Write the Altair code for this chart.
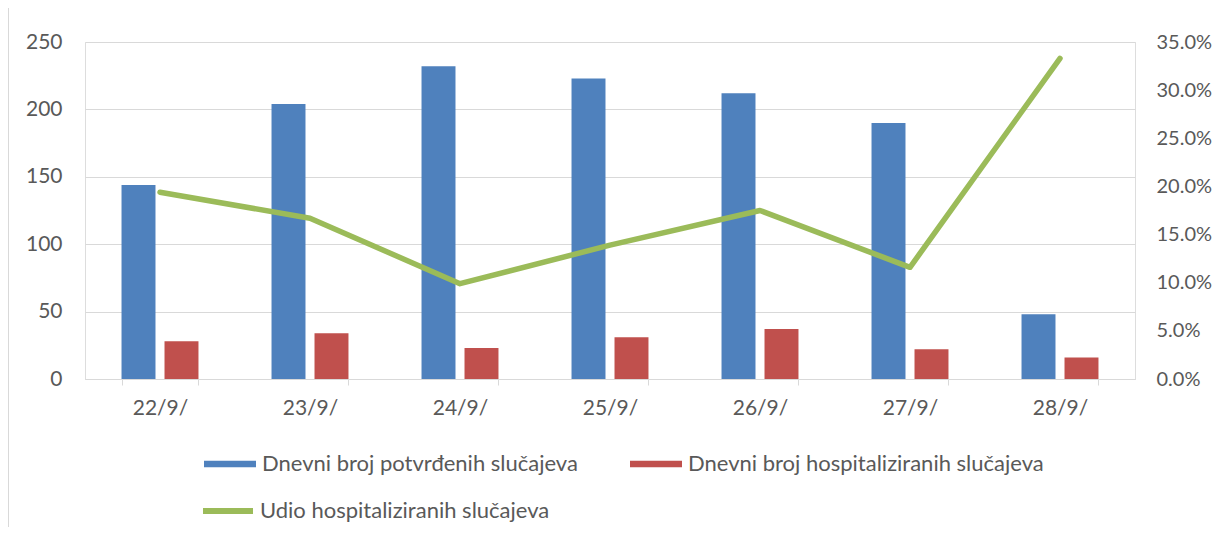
import altair as alt
import pandas as pd

dates = ["22/9/", "23/9/", "24/9/", "25/9/", "26/9/", "27/9/", "28/9/"]
confirmed = [144, 204, 232, 223, 212, 190, 48]
hospitalized = [28, 34, 23, 31, 37, 22, 16]
share = [0.194, 0.167, 0.099, 0.139, 0.175, 0.116, 0.333]

s_conf = "Dnevni broj potvrđenih slučajeva"
s_hosp = "Dnevni broj hospitaliziranih slučajeva"
s_share = "Udio hospitaliziranih slučajeva"

bars_df = pd.DataFrame({
    "date": dates * 2,
    "value": confirmed + hospitalized,
    "series": [s_conf] * len(dates) + [s_hosp] * len(dates),
})
line_df = pd.DataFrame({"date": dates, "share": share, "series": [s_share] * len(dates)})

FONT = "Lato"
TXT = "#595959"
GRID = "#D9D9D9"
AX_FS = 21
LG_FS = 22

x = alt.X("date:N", sort=dates, title=None,
          scale=alt.Scale(paddingInner=0.487, paddingOuter=0.2435),
          axis=alt.Axis(labelAngle=0, tickBand="extent", domainColor=GRID, tickColor=GRID,
                        tickSize=6, labelPadding=12, labelFontSize=AX_FS, labelColor=TXT,
                        labelFont=FONT, grid=False))

bars = alt.Chart(bars_df).mark_bar().encode(
    x=x,
    xOffset=alt.XOffset("series:N", sort=[s_conf, s_hosp],
                        scale=alt.Scale(paddingInner=0.21, paddingOuter=0)),
    y=alt.Y("value:Q", title=None,
            scale=alt.Scale(domain=[0, 250], nice=False),
            axis=alt.Axis(values=[0, 50, 100, 150, 200, 250], grid=True, gridColor=GRID,
                          domain=False, ticks=False, labelPadding=23, labelFontSize=AX_FS,
                          labelColor=TXT, labelFont=FONT)),
    color=alt.Color("series:N", sort=[s_conf, s_hosp],
                    scale=alt.Scale(domain=[s_conf, s_hosp], range=["#4F81BD", "#C0504D"]),
                    legend=alt.Legend(title=None, orient="none", legendX=119, legendY=396,
                                      direction="horizontal", columnPadding=52,
                                      symbolType="M-1,-0.125L1,-0.125L1,0.125L-1,0.125Z",
                                      symbolSize=2704, symbolStrokeWidth=0,
                                      labelFontSize=LG_FS, labelColor=TXT, labelFont=FONT,
                                      labelOffset=6, padding=0, labelLimit=500)),
)

line = alt.Chart(line_df).mark_line(strokeWidth=5.5, strokeCap="round", strokeJoin="round").encode(
    x=x,
    y=alt.Y("share:Q", title=None,
            scale=alt.Scale(domain=[0, 0.35], nice=False),
            axis=alt.Axis(orient="right", format=".1%",
                          values=[0, 0.05, 0.1, 0.15, 0.2, 0.25, 0.3, 0.35],
                          grid=False, domain=False, ticks=False, labelPadding=21,
                          labelFontSize=20, labelColor=TXT, labelFont=FONT)),
    stroke=alt.Stroke("series:N",
                      scale=alt.Scale(domain=[s_share], range=["#9BBB59"]),
                      legend=alt.Legend(title=None, orient="none", legendX=115, legendY=441,
                                        symbolType="stroke", symbolSize=2500,
                                        symbolStrokeWidth=6,
                                        labelFontSize=LG_FS, labelColor=TXT, labelFont=FONT,
                                        labelOffset=4, padding=0, labelLimit=500)),
)

border = alt.Chart(pd.DataFrame({"edge": [0]})).mark_rule(color=GRID, strokeWidth=1).encode(
    x=alt.value(-76.5), y=alt.value(-34), y2=alt.value(490)
)

chart = alt.layer(bars, line, border).resolve_scale(y="independent", color="independent").properties(
    width=1050, height=337,
    autosize=alt.AutoSizeParams(type="none"),
    padding={"left": 77, "top": 34, "right": 81, "bottom": 148},
).configure_view(stroke=None).configure(background="white")

chart.save("out.html", embed_options={"renderer": "svg", "actions": False})
